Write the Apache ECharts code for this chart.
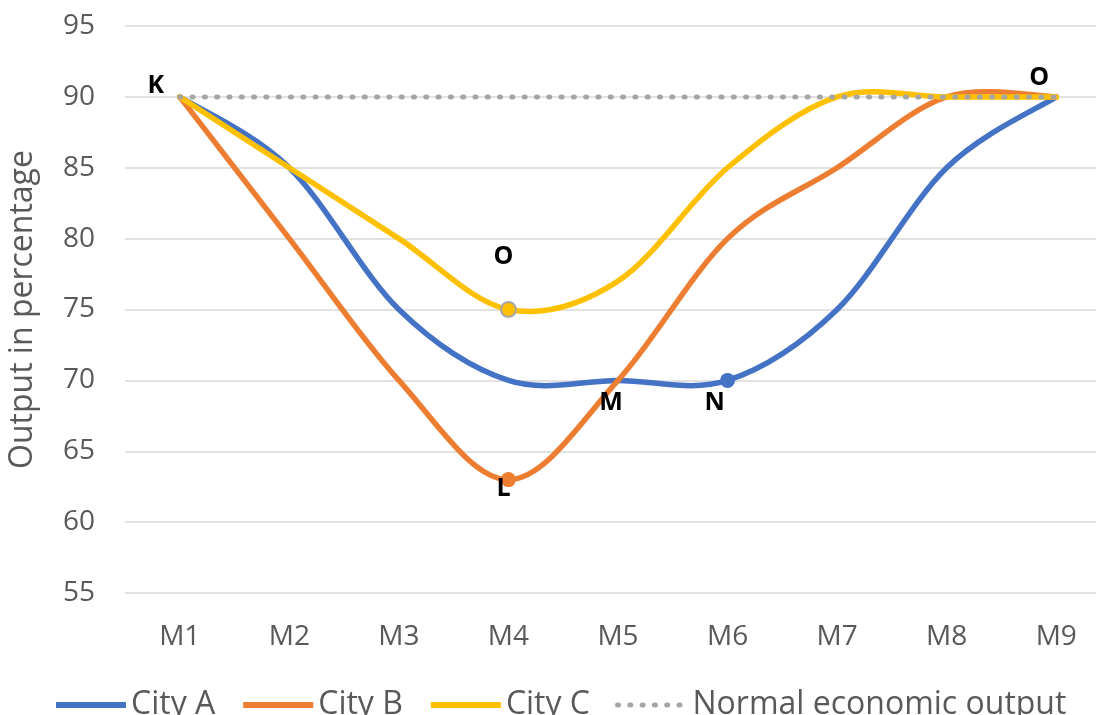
<!DOCTYPE html>
<html>
<head>
<meta charset="utf-8">
<title>Output in percentage</title>
<script src="https://cdn.jsdelivr.net/npm/echarts@6/dist/echarts.min.js"></script>
<style>
  html, body { margin: 0; padding: 0; background: #ffffff; }
  #chart { width: 1096px; height: 715px; }
</style>
</head>
<body>
<div id="chart"></div>
<script>
// Months on the horizontal axis
const months = ['M1', 'M2', 'M3', 'M4', 'M5', 'M6', 'M7', 'M8', 'M9'];

// Output in percentage per city
const cityA = [90, 85, 75, 70, 70, 70, 75, 85, 90];
const cityB = [90, 80, 70, 63, 70, 80, 85, 90, 90];
const cityC = [90, 85, 80, 75, 77, 85, 90, 90, 90];
const normalOutput = [90, 90, 90, 90, 90, 90, 90, 90, 90];

// Letters annotating points of each series ('' = none)
const lettersA = ['', '', '', '', '', 'N', '', '', ''];
const lettersB = ['', '', '', 'L', 'M', '', '', '', ''];
const lettersC = ['', '', '', 'O', '', '', '', '', ''];
const lettersNormal = ['K', '', '', '', '', '', '', '', 'O'];

// Y-axis range
const yMin = 55, yMax = 95, yStep = 5;

const FONT = '"Open Sans", "Noto Sans", sans-serif';
const TEXT_GREY = '#595959';
const COLORS = { A: '#4472C4', B: '#ED7D31', C: '#FFC000', Normal: '#A5A5A5' };
const LINE_W = 5.5;

// Placement of each annotation relative to its point, and whether a dot is drawn
const annotationStyle = {
  A: { N: { offset: [-13, 22], dot: true } },
  B: { L: { offset: [-5, 9], dot: true }, M: { offset: [-7, 22], dot: false } },
  C: { O: { offset: [-5, -53], dot: true, border: true } },
  Normal: { K: { offset: [-24, -11], dot: false }, O: { offset: [-17, -19], dot: false } }
};

function buildData(values, letters, key, color) {
  return values.map(function (v, i) {
    const letter = letters[i];
    if (!letter) return { value: v, symbolSize: 0 };
    const st = annotationStyle[key][letter];
    return {
      value: v,
      symbolSize: st.dot ? 15 : 0,
      itemStyle: st.border
        ? { color: color, borderColor: '#A5A5A5', borderWidth: 2, opacity: 1 }
        : { color: color, borderWidth: 0, opacity: 1 },
      label: {
        show: true,
        position: 'inside',
        offset: st.offset,
        formatter: letter,
        color: '#000000',
        fontFamily: FONT,
        fontWeight: 'bold',
        fontSize: 25
      }
    };
  });
}

// Smooth curve through the points: cubic Bezier segments whose control points
// follow the neighbouring points (Catmull-Rom style, 1/6 of the chord).
function smoothCurveSeries(values, color) {
  return {
    type: 'custom',
    coordinateSystem: 'cartesian2d',
    data: values.map(function (v, i) { return [i, v]; }),
    encode: { x: 0, y: 1 },
    silent: true,
    animation: false,
    renderItem: function (params, api) {
      if (params.dataIndex !== 0) return null;
      const pts = values.map(function (v, i) { return api.coord([i, v]); });
      const n = pts.length;
      let d = 'M' + pts[0][0] + ' ' + pts[0][1];
      for (let i = 0; i < n - 1; i++) {
        const p0 = pts[Math.max(i - 1, 0)];
        const p1 = pts[i];
        const p2 = pts[i + 1];
        const p3 = pts[Math.min(i + 2, n - 1)];
        const c1x = p1[0] + (p2[0] - p0[0]) / 6;
        const c1y = p1[1] + (p2[1] - p0[1]) / 6;
        const c2x = p2[0] - (p3[0] - p1[0]) / 6;
        const c2y = p2[1] - (p3[1] - p1[1]) / 6;
        d += ' C' + c1x + ' ' + c1y + ' ' + c2x + ' ' + c2y + ' ' + p2[0] + ' ' + p2[1];
      }
      return {
        type: 'path',
        shape: { pathData: d },
        style: { fill: null, stroke: color, lineWidth: LINE_W, lineCap: 'round', lineJoin: 'round' }
      };
    }
  };
}

// Line series carrying legend entry, point markers and letters
function pointSeries(name, values, letters, key) {
  const color = COLORS[key];
  return {
    name: name,
    type: 'line',
    data: buildData(values, letters, key, color),
    symbol: 'circle',
    showSymbol: true,
    symbolSize: 0,
    itemStyle: { color: color },
    lineStyle: { color: color, width: LINE_W, opacity: 0 },
    emphasis: { disabled: true },
    z: 3,
    animation: false
  };
}

const chart = echarts.init(document.getElementById('chart'), null, { renderer: 'canvas' });

chart.setOption({
  backgroundColor: '#ffffff',
  animation: false,
  grid: { left: 125, top: 26, width: 986, height: 567, containLabel: false, outerBoundsMode: 'none' },
  legend: {
    left: 48,
    top: 684,
    itemWidth: 70,
    itemHeight: 6,
    itemGap: 25,
    itemStyle: { opacity: 0 },
    lineStyle: { opacity: 1, width: 6 },
    textStyle: { fontFamily: FONT, fontSize: 32, color: TEXT_GREY },
    data: [
      { name: 'City A' },
      { name: 'City B' },
      { name: 'City C' },
      { name: 'Normal economic output', lineStyle: { opacity: 1, width: 5 } }
    ]
  },
  xAxis: {
    type: 'category',
    data: months,
    boundaryGap: true,
    axisLine: { show: false },
    axisTick: { show: false },
    axisLabel: { fontFamily: FONT, fontSize: 28, color: TEXT_GREY, margin: 30 },
    splitLine: { show: false }
  },
  yAxis: {
    type: 'value',
    min: yMin,
    max: yMax,
    interval: yStep,
    name: 'Output in percentage',
    nameLocation: 'middle',
    nameGap: 86,
    nameRotate: 90,
    nameTextStyle: { fontFamily: FONT, fontSize: 32, color: TEXT_GREY },
    axisLine: { show: false },
    axisTick: { show: false },
    axisLabel: { fontFamily: FONT, fontSize: 28, color: TEXT_GREY, margin: 30 },
    splitLine: { lineStyle: { color: '#D9D9D9', width: 1.5 } }
  },
  series: [
    smoothCurveSeries(cityA, COLORS.A),
    smoothCurveSeries(cityB, COLORS.B),
    smoothCurveSeries(cityC, COLORS.C),
    pointSeries('City A', cityA, lettersA, 'A'),
    pointSeries('City B', cityB, lettersB, 'B'),
    pointSeries('City C', cityC, lettersC, 'C'),
    {
      name: 'Normal economic output',
      type: 'line',
      data: buildData(normalOutput, lettersNormal, 'Normal', COLORS.Normal),
      smooth: false,
      symbol: 'circle',
      showSymbol: true,
      symbolSize: 0,
      itemStyle: { color: COLORS.Normal },
      lineStyle: { color: COLORS.Normal, width: 5, type: [1, 11.3], cap: 'round' },
      emphasis: { disabled: true },
      z: 4,
      animation: false
    }
  ]
});
</script>
</body>
</html>
